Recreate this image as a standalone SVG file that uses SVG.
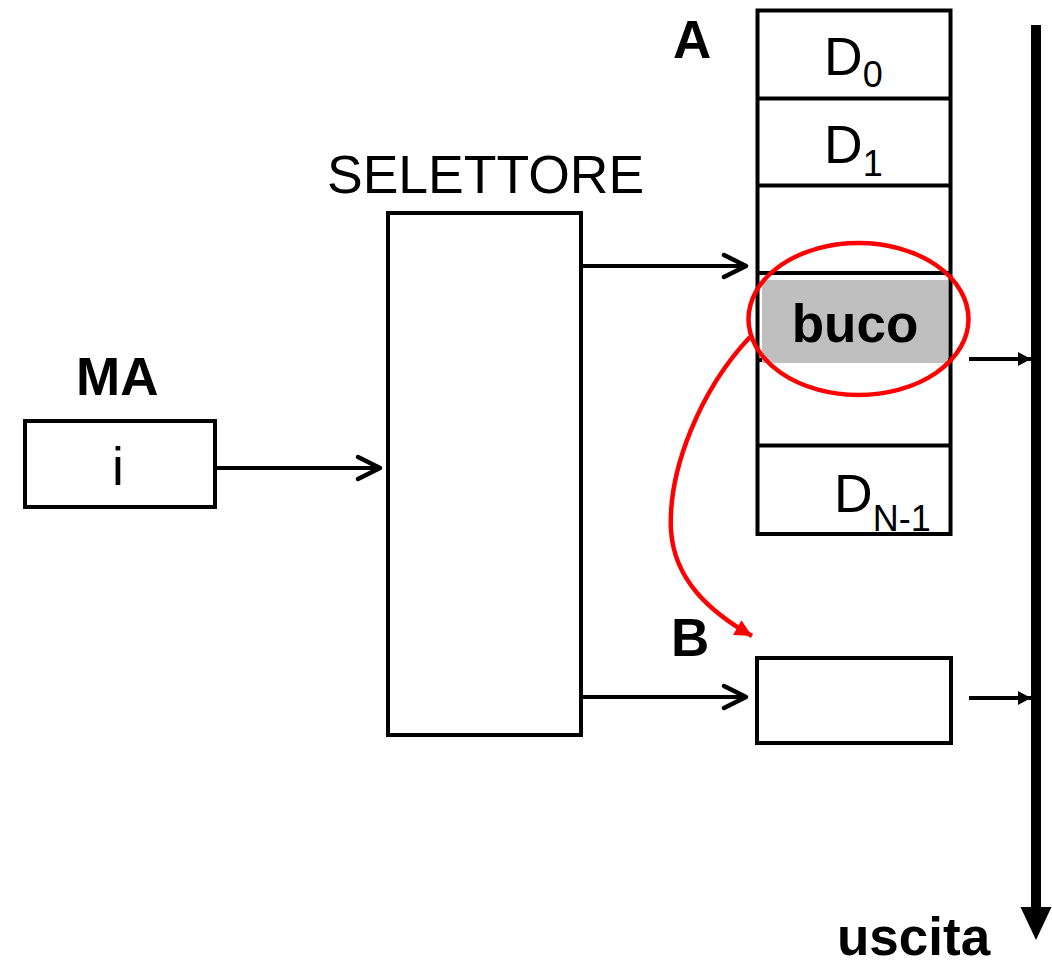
<svg xmlns="http://www.w3.org/2000/svg" width="1052" height="966" viewBox="0 0 1052 966">
<style>
.box{fill:#fff;stroke:#000;stroke-width:4}
.ln{stroke:#000;stroke-width:4;fill:none}
.reg{font-family:"Liberation Sans",Arial,sans-serif;font-size:53.5px;fill:#000}
.bold{font-family:"Liberation Sans",Arial,sans-serif;font-size:53px;font-weight:bold;fill:#000}
.sub{font-size:36px}
</style>
<defs>
<marker id="open" markerUnits="userSpaceOnUse" markerWidth="30" markerHeight="30" viewBox="-26 -15 30 30" refX="0" refY="0" orient="auto">
<path d="M -22 -11 L 0 0 L -22 11" fill="none" stroke="#000" stroke-width="4.5" stroke-linecap="round" stroke-linejoin="round"/>
</marker>
<marker id="solid" markerUnits="userSpaceOnUse" markerWidth="16" markerHeight="16" viewBox="-14 -8 16 16" refX="0" refY="0" orient="auto">
<path d="M -13 -7 L 0 0 L -13 7 Z" fill="#000"/>
</marker>
<marker id="red" markerUnits="userSpaceOnUse" markerWidth="22" markerHeight="22" viewBox="-20 -11 22 22" refX="0" refY="0" orient="auto">
<path d="M -17 -8.5 L 0 0 L -17 8.5 Z" fill="#ff0000"/>
</marker>
</defs>

<g id="MA">
<rect class="box" x="25" y="421" width="190" height="86"/>
<text class="bold" x="76" y="395">MA</text>
<text class="reg" x="118" y="485" text-anchor="middle">i</text>
</g>

<g id="selettore">
<rect class="box" x="388" y="213" width="193" height="522"/>
<text class="reg" x="327" y="193">SELETTORE</text>
</g>

<g id="A">
<rect class="box" x="757.5" y="10.5" width="193" height="523.5"/>
<line class="ln" x1="757.5" y1="98.5" x2="950.5" y2="98.5"/>
<line class="ln" x1="757.5" y1="185.5" x2="950.5" y2="185.5"/>
<line class="ln" x1="757.5" y1="273" x2="950.5" y2="273"/>
<line class="ln" x1="757.5" y1="360" x2="950.5" y2="360"/>
<line class="ln" x1="757.5" y1="445.5" x2="950.5" y2="445.5"/>
<text class="bold" x="673" y="58">A</text>
<text class="reg" x="824" y="75">D<tspan class="sub" dy="12">0</tspan></text>
<text class="reg" x="824" y="163">D<tspan class="sub" dy="13">1</tspan></text>
<text class="reg" x="834" y="512">D<tspan class="sub" dy="19">N-1</tspan></text>
</g>

<g id="buco">
<rect x="762" y="280" width="186" height="83" fill="#bfbfbf"/>
<text class="bold" x="855" y="342" text-anchor="middle">buco</text>
<ellipse cx="858.5" cy="319" rx="110" ry="76" fill="none" stroke="#ff0000" stroke-width="4.5"/>
</g>

<g id="B">
<rect class="box" x="757" y="658" width="194" height="85"/>
<text class="bold" x="671" y="656">B</text>
</g>

<g id="uscita">
<line x1="1036" y1="25" x2="1036" y2="910" stroke="#000" stroke-width="10"/>
<path d="M 1020.5 907 L 1051.5 907 L 1036 940 Z" fill="#000"/>
<text class="bold" x="837" y="955">uscita</text>
</g>

<g id="connectors">
<line class="ln" x1="217" y1="468" x2="380" y2="468" marker-end="url(#open)"/>
<line class="ln" x1="583" y1="266" x2="746" y2="266" marker-end="url(#open)"/>
<line class="ln" x1="583" y1="697" x2="746" y2="697" marker-end="url(#open)"/>
<line class="ln" x1="969" y1="359" x2="1031" y2="359" marker-end="url(#solid)"/>
<line class="ln" x1="969" y1="698" x2="1031" y2="698" marker-end="url(#solid)"/>
<path d="M 750 337 C 700 390 668 470 671 530 C 674 580 710 612 752 636" fill="none" stroke="#ff0000" stroke-width="4.5" marker-end="url(#red)"/>
</g>
</svg>
